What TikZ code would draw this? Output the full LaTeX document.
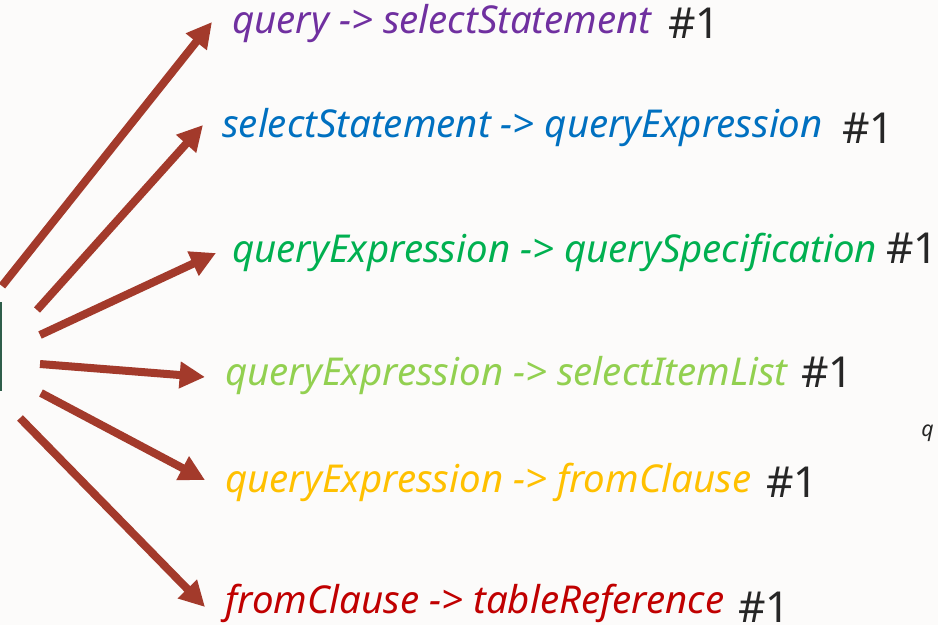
\documentclass[tikz,border=0pt]{standalone}
\usepackage{fontspec}
\setmainfont{Noto Sans}
\usetikzlibrary{arrows.meta}
\definecolor{bgc}{HTML}{FCFBFA}
\definecolor{arr}{HTML}{A33A2B}
\definecolor{cpurple}{HTML}{7030A0}
\definecolor{cblue}{HTML}{0070C0}
\definecolor{cgreen}{HTML}{00B050}
\definecolor{clgreen}{HTML}{92D050}
\definecolor{cyellow}{HTML}{FFC000}
\definecolor{cred}{HTML}{C00000}
\definecolor{cnum}{HTML}{262626}
\definecolor{cbox}{HTML}{2E5E4A}
\begin{document}
\begin{tikzpicture}[x=0.75pt,y=-0.75pt,
  rule/.style={anchor=base west,inner sep=0pt,font=\fontsize{28.8}{32}\selectfont\itshape},
  num/.style={anchor=base west,inner sep=0pt,text=cnum,font=\fontsize{32}{36}\selectfont},
  arrowline/.style={draw=arr,line width=6pt,-{Triangle[length=19pt,width=19pt]}}]
\useasboundingbox[fill=bgc] (0,0) rectangle (938,625);
\draw[cbox,line width=1pt] (-60,303) rectangle (1,390);
\node[rule,text=cpurple] (t1) at (232,33) {query -> selectStatement};
\node[num] (n1) at (668,38) {\#1};
\node[rule,text=cblue] (t2) at (222,137) {selectStatement -> queryExpression};
\node[num] (n2) at (842,143) {\#1};
\node[rule,text=cgreen] (t3) at (232,262) {queryExpression -> querySpecification};
\node[num] (n3) at (886,263) {\#1};
\node[rule,text=clgreen] (t4) at (225,385) {queryExpression -> selectItemList};
\node[num] (n4) at (801,387) {\#1};
\node[rule,text=cyellow] (t5) at (225,492) {queryExpression -> fromClause};
\node[num] (n5) at (766,497) {\#1};
\node[rule,text=cred] (t6) at (225,613) {fromClause -> tableReference};
\node[num] (n6) at (738,622) {\#1};
\node[anchor=base west,inner sep=0pt,text=cnum,font=\fontsize{16}{18}\selectfont\itshape] (q) at (921,436) {q};
\coordinate (s1) at (2,286);
\coordinate (s2) at (37,310);
\coordinate (s3) at (40,335);
\coordinate (s4) at (40,364);
\coordinate (s5) at (41,393);
\coordinate (s6) at (20,418);
\coordinate (e1) at (212,22);
\coordinate (e2) at (203,125);
\coordinate (e3) at (216,253);
\coordinate (e4) at (205,377);
\coordinate (e5) at (205,480);
\coordinate (e6) at (205,607);
\foreach \i in {1,...,6} {\draw[arrowline] (s\i) -- (e\i);}
\end{tikzpicture}
\end{document}
